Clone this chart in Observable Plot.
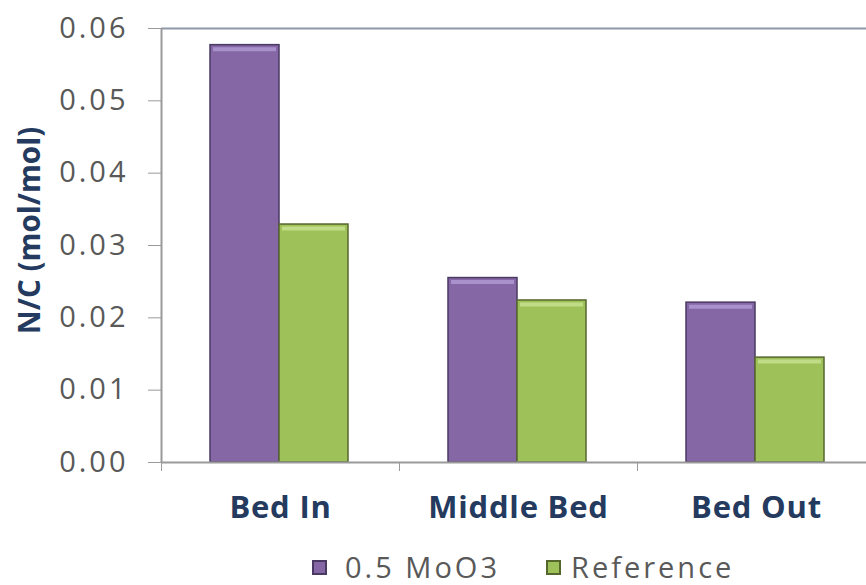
<!DOCTYPE html>
<html>
<head>
<meta charset="utf-8">
<script src="https://cdn.jsdelivr.net/npm/d3@7"></script>
<script src="https://cdn.jsdelivr.net/npm/@observablehq/plot@0.6"></script>
<style>
  html, body { margin: 0; padding: 0; background: #fff; }
  #wrap { position: relative; width: 866px; height: 585px; overflow: hidden; }
  #legend { position: absolute; left: 312px; top: 550px; height: 34px; display: flex; align-items: center;
    font-family: "Open Sans", sans-serif; font-size: 29px; line-height: 34px; color: #595959; letter-spacing: 3px; white-space: nowrap; }
  .item { display: flex; align-items: center; }
  .sw { width: 15px; height: 15px; box-sizing: border-box; }
</style>
</head>
<body>
<div id="wrap">
  <div id="chart"></div>
  <div id="legend"></div>
</div>
<script>
const categories = ["Bed In", "Middle Bed", "Bed Out"];
const series = ["0.5 MoO3", "Reference"];
const moo3 = [0.0577, 0.0255, 0.0221];
const reference = [0.0329, 0.0224, 0.0145];
const yTicks = [0, 0.01, 0.02, 0.03, 0.04, 0.05, 0.06];

const colors = {"0.5 MoO3": "#8567a6", "Reference": "#9fc15a"};
const edges = {"0.5 MoO3": "#4a3a63", "Reference": "#56672e"};
const bevels = {"0.5 MoO3": "#a991cc", "Reference": "#c0dc86"};

const rows = [];
categories.forEach((c, i) => {
  rows.push({category: c, series: series[0], value: moo3[i]});
  rows.push({category: c, series: series[1], value: reference[i]});
});

const insets = {"0.5 MoO3": [49, 120], "Reference": [118, 51]};

const barMarks = series.map(s => {
  const d = rows.filter(r => r.series === s);
  return [
    Plot.barY(d, {x: "category", y: "value", fill: colors[s], stroke: edges[s], strokeWidth: 1.5,
      insetLeft: insets[s][0], insetRight: insets[s][1]}),
    Plot.tickY(d, {x: "category", y: "value", stroke: bevels[s], strokeWidth: 4, dy: 4,
      insetLeft: insets[s][0] + 3, insetRight: insets[s][1] + 3})
  ];
});

const chart = Plot.plot({
  width: 866,
  height: 545,
  marginLeft: 161,
  marginRight: 0,
  marginTop: 28,
  marginBottom: 83,
  style: {fontFamily: "'Open Sans', sans-serif", background: "#fff"},
  x: {type: "band", domain: categories, range: [161, 875], padding: 0},
  y: {domain: [0, 0.06], range: [462, 28]},
  marks: [
    Plot.ruleY([0.06], {stroke: "#8e98a8", strokeWidth: 2}),
    barMarks,
    Plot.ruleY([0], {stroke: "#9a9a9a", strokeWidth: 2}),
    Plot.ruleX([categories[0]], {stroke: "#9a9a9a", strokeWidth: 2, dx: -119}),
    Plot.axisY({ticks: yTicks, tickFormat: d3.format(".2f"), tickSize: 13, tickPadding: 20,
      stroke: "#9a9a9a", fill: "#595959", fontSize: 29, label: null}),
    Plot.axisX({tickSize: 9, dx: -119, tickFormat: () => "", stroke: "#9a9a9a", label: null}),
    Plot.axisX({tickSize: 0, tickPadding: 33, fontSize: 31, fontWeight: "bold", fill: "#243a5e", label: null}),
    Plot.text(["N/C (mol/mol)"], {frameAnchor: "left", textAnchor: "middle", dx: -131, dy: -15, rotate: -90,
      fontSize: 29.5, fontWeight: "bold", fill: "#243a5e"})
  ]
});
document.getElementById("chart").appendChild(chart);

// widen label glyph spacing to match the reference's wide rendering
d3.select(chart).selectAll('g[aria-label="y-axis tick label"]').style("letter-spacing", "3px");
d3.select(chart).selectAll('g[aria-label="x-axis tick label"]').style("letter-spacing", "0.8px");

const legend = document.getElementById("legend");
series.forEach((s, i) => {
  const it = document.createElement("div");
  it.className = "item";
  if (i > 0) it.style.marginLeft = "46px";
  const sw = document.createElement("div");
  sw.className = "sw";
  sw.style.background = colors[s];
  sw.style.border = "2px solid " + edges[s];
  sw.style.marginRight = i === 0 ? "18px" : "10px";
  const t = document.createElement("span");
  t.textContent = s;
  it.appendChild(sw); it.appendChild(t);
  legend.appendChild(it);
});
</script>
</body>
</html>
